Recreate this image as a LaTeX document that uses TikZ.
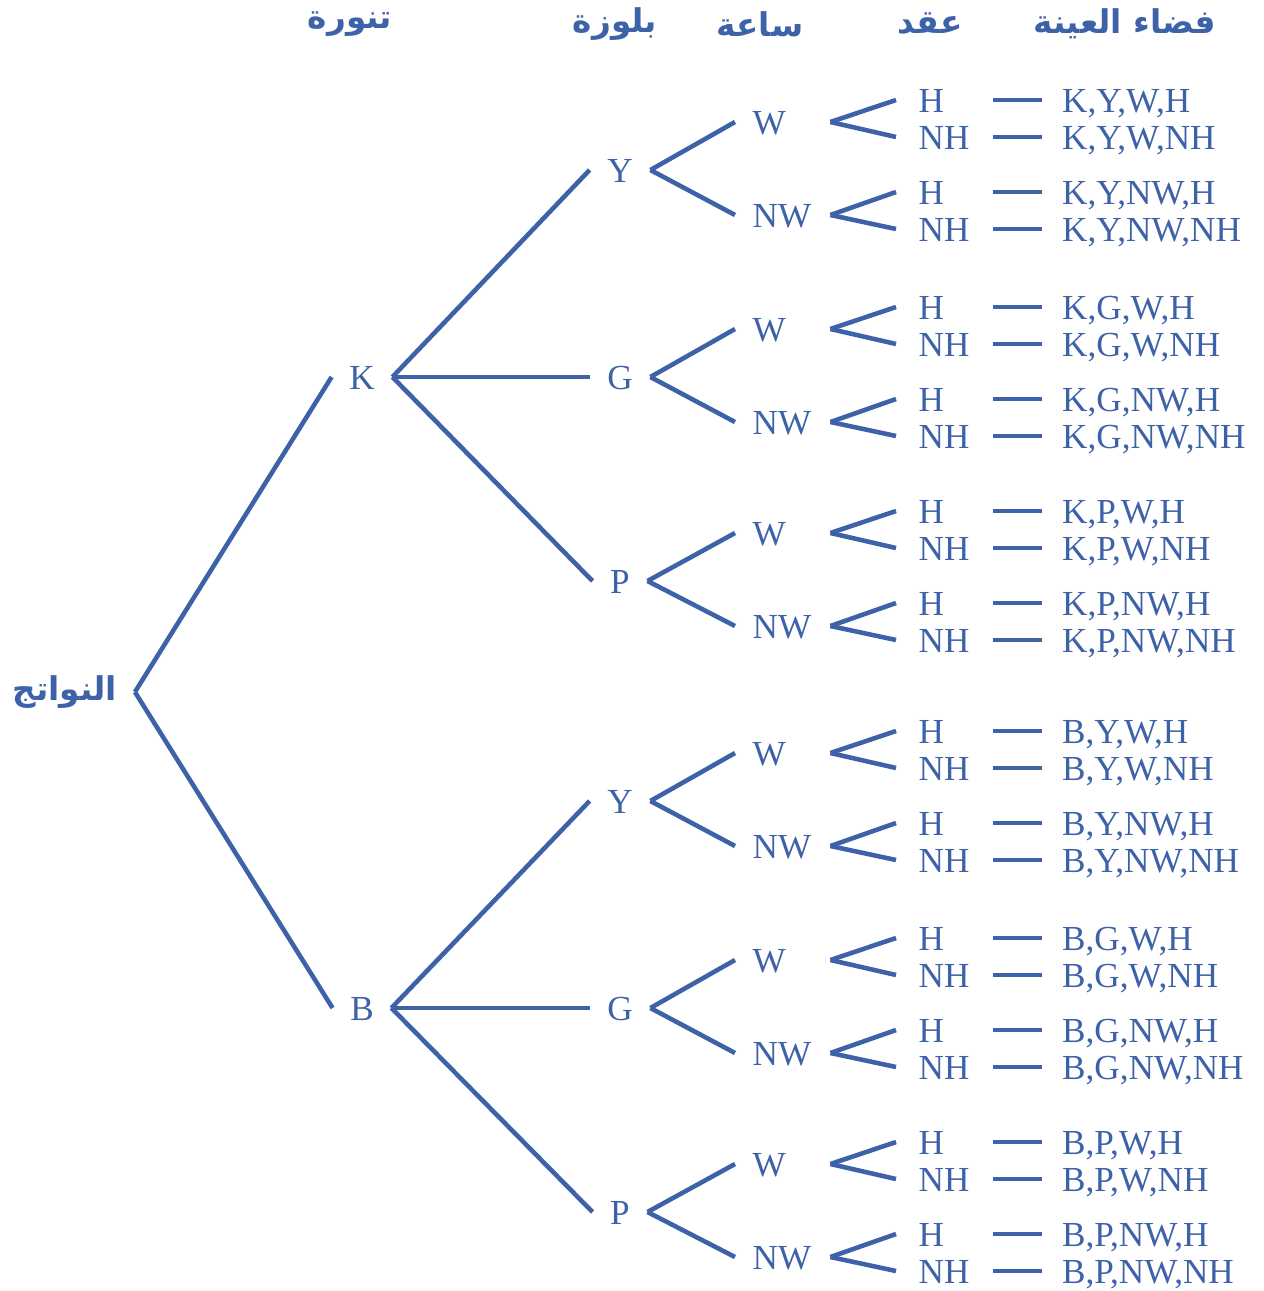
\documentclass[tikz,border=0pt]{standalone}
\usepackage{fontspec}
\setmainfont{Liberation Serif}
\newfontfamily\arabicfont[Script=Arabic]{DejaVu Sans}
\TeXXeTstate=1
\usepackage{tikz}
\usetikzlibrary{positioning}

\definecolor{treeblue}{RGB}{62,98,168}
\tikzset{
  lbl/.style={text=treeblue, inner xsep=0.17cm, inner ysep=0pt, text height=7pt, text depth=0pt, font=\fontsize{10}{12}\selectfont},
  wlbl/.style={lbl, anchor=west, text width=0.6cm, align=left},
  hlbl/.style={lbl, anchor=west, inner xsep=0.22cm, text width=0.52cm, align=left},
  outc/.style={lbl, inner xsep=0.2cm},
  head/.style={text=treeblue, inner sep=0pt, font=\arabicfont\bfseries\fontsize{9.3}{11}\selectfont},
  branch/.style={draw=treeblue, line width=1.3pt}
}

\begin{document}
\begin{tikzpicture}[x=0.01cm, y=-0.01cm]
  \useasboundingbox (0,0) rectangle (1264,1291);
  % Column heads
  \node[head] (hsk) at (350,24) {\beginR تنورة\endR};
  \node[head] (hbl) at (615,24) {\beginR بلوزة\endR};
  \node[head] (hwt) at (760,24) {\beginR ساعة\endR};
  \node[head] (hnk) at (930,24) {\beginR عقد\endR};
  \node[head] (hsp) at (1125,24) {\beginR فضاء العينة\endR};
  % Root
  \node[head, inner xsep=0.17cm] (root) at (65,692) {\beginR النواتج\endR};
  % Tree
  \foreach \sk/\ysk/\yk in {K/0/377, B/631/1008} {
    \node[lbl] (\sk) at (362,\yk) {\sk};
    \draw[branch] (root.east) -- (\sk.west);
    \foreach \bl/\ybl in {Y/100, G/307, P/511} {
      \pgfmathsetmacro\base{\ybl+\ysk}
      \node[lbl] (\sk\bl) at (620,\base+70) {\bl};
      \draw[branch] (\sk.east) -- (\sk\bl.west);
      \foreach \wt/\ywt/\yh in {W/22/0, NW/115/92} {
        \node[wlbl] (\sk\bl\wt) at (735,\base+\ywt) {\wt};
        \draw[branch] (\sk\bl.east) -- (\sk\bl\wt.west);
        \foreach \nk/\ynk in {H/0, NH/37} {
          \node[hlbl] (\sk\bl\wt\nk) at (896,\base+\yh+\ynk) {\nk};
          \node[outc, anchor=west, right=0.48cm of \sk\bl\wt\nk] (o\sk\bl\wt\nk) {\sk,\bl,\wt,\nk};
          \draw[branch] (\sk\bl\wt.east) -- (\sk\bl\wt\nk.west);
          \draw[branch] (\sk\bl\wt\nk.east) -- (o\sk\bl\wt\nk.west);
        }
      }
    }
  }
\end{tikzpicture}
\end{document}
